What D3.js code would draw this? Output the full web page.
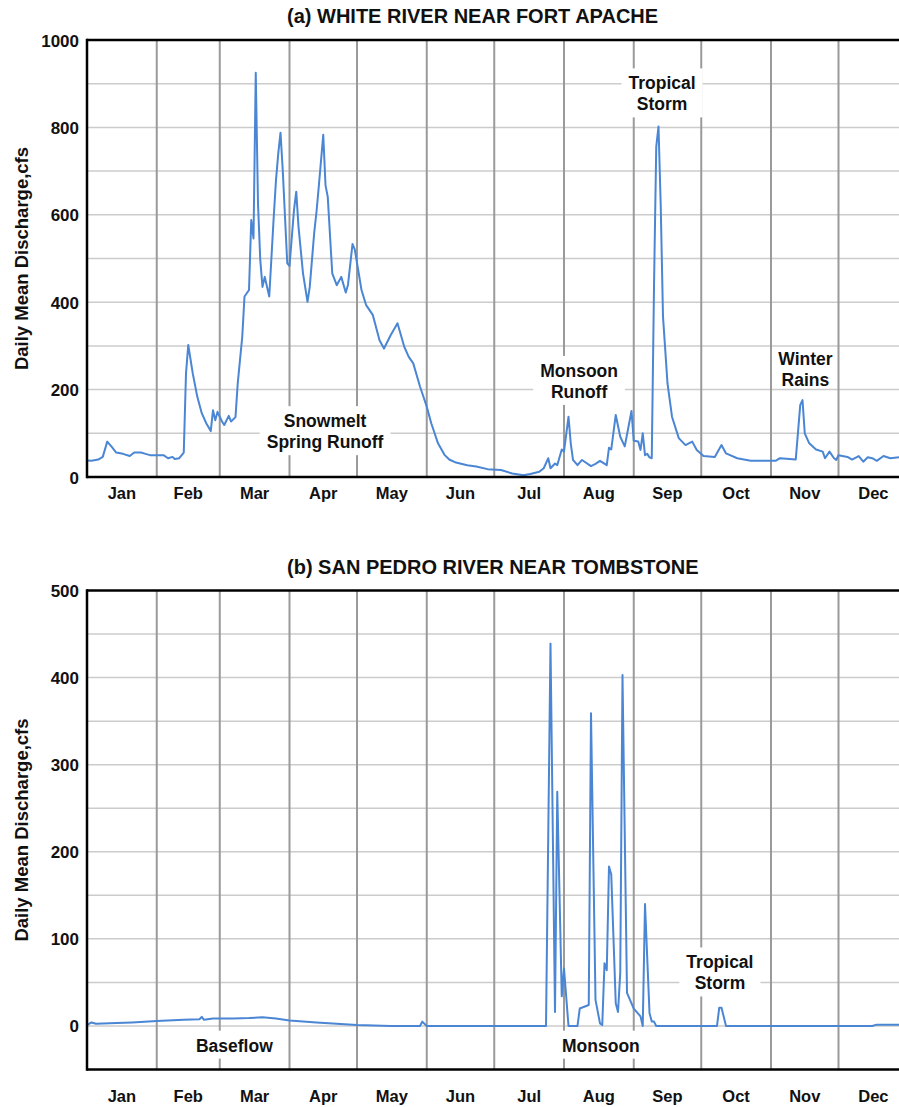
<!DOCTYPE html>
<html lang="en">
<head>
<meta charset="UTF-8">
<title>Daily Mean Discharge</title>
<script src="https://d3js.org/d3.v7.min.js"></script>
<style>
  body { margin: 0; background: #ffffff; }
  text {
    font-family: "Liberation Sans", Arial, sans-serif;
    font-weight: bold;
    fill: #111111;
  }
  .grid-h line { stroke: #cccccc; stroke-width: 1.5px; }
  .grid-v line { stroke: #9a9a9a; stroke-width: 2px; }
  .frame line { stroke: #000000; stroke-width: 2.5px; }
  .flow { fill: none; stroke: #4a86d4; stroke-width: 2px; stroke-linejoin: round; }
</style>
</head>
<body>
<svg width="899" height="1107"></svg>

<script>
    // month names and cumulative day at the end of each month
    var months = ["Jan", "Feb", "Mar", "Apr", "May", "Jun", "Jul", "Aug", "Sep", "Oct", "Nov", "Dec"];
    var monthEnds = [31, 59, 90, 120, 151, 181, 212, 243, 273, 304, 334, 365];

    // [day of year, daily mean discharge cfs]
    var whiteRiver = [
        [0,38],[2,37],[5,40],[7,46],[9,81],[11,69],[13,56],[16,53],[19,48],[21,56],[24,56],[26,53],
        [28,50],[31,50],[34,50],[36,43],[38,46],[39,41],[41,43],[43,56],[44,237],[45,302],[47,237],
        [49,184],[51,146],[53,123],[55,105],[56,153],[57,130],[58,149],[60,127],[61,119],[63,140],
        [64,127],[66,137],[67,215],[69,321],[70,413],[72,428],[73,588],[74,546],[75,925],[76,626],
        [77,497],[78,435],[79,458],[81,413],[83,596],[84,680],[85,740],[86,788],[87,702],[89,489],
        [90,483],[92,611],[93,653],[94,573],[96,466],[98,401],[99,435],[101,560],[102,607],[103,664],
        [105,783],[106,668],[107,641],[109,466],[111,439],[113,458],[115,422],[116,440],[118,533],
        [119,521],[122,428],[124,394],[127,371],[128,352],[130,313],[132,294],[135,325],[138,352],
        [141,298],[143,275],[145,260],[148,207],[151,161],[153,123],[156,77],[159,50],[161,40],
        [164,33],[169,27],[173,24],[178,18],[184,16],[189,8],[194,4],[197,7],[201,12],[203,20],
        [205,43],[206,20],[208,31],[209,27],[211,63],[212,58],[214,138],[215,77],[216,39],[218,27],
        [220,39],[224,25],[226,30],[228,37],[231,27],[232,67],[233,63],[235,142],[237,92],[239,70],
        [242,151],[243,83],[245,81],[246,62],[247,100],[248,50],[249,53],[250,45],[251,43],[252,435],
        [253,756],[254,802],[255,619],[256,367],[258,214],[260,138],[263,89],[266,73],[269,81],
        [271,62],[274,48],[279,46],[282,73],[284,54],[289,43],[295,37],[306,37],[308,43],[315,40],
        [317,165],[318,176],[319,100],[321,77],[324,63],[327,58],[328,43],[330,58],[332,43],[333,39],
        [334,50],[338,46],[340,40],[343,48],[345,35],[347,45],[349,43],[351,37],[354,48],[357,43],
        [361,45],[364,45]
    ];

    var sanPedro = [
        [0,1],[2,4],[4,2.5],[10,3],[20,4],[31,5.7],[43,7],[50,7.7],[51,10.5],[52,7],[56,8.5],
        [65,8.5],[72,9],[78,10],[84,8.5],[90,6.2],[102,4],[120,1.2],[135,0],[148,0],[149,5],[151,0],
        [204,0],[206,439],[208,16],[209,269],[211,34],[212,66],[214,0],[218,0],[219,20],[223,24],
        [224,359],[226,30],[228,3],[229,1],[230,72],[231,64],[232,183],[233,174],[235,26],[236,16],
        [237,61],[238,403],[240,38],[243,20],[246,11],[247,0],[248,140],[250,15],[251,5],[252,5],
        [253,0],[280,0],[281,21],[282,21],[284,0],[349,0],[351,1.5],[364,1.5]
    ];

    // annotation text, anchored at (day, cfs) of the first line
    var whiteNotes = [
        { lines: ["Tropical", "Storm"], day: 255.6, cfs: 887, box: true },
        { lines: ["Snowmelt", "Spring Runoff"], day: 105.8, cfs: 114, box: true },
        { lines: ["Monsoon", "Runoff"], day: 218.7, cfs: 229, box: true },
        { lines: ["Winter", "Rains"], day: 319.3, cfs: 256, box: false }
    ];
    var sanPedroNotes = [
        { lines: ["Tropical", "Storm"], day: 281.3, cfs: 66, box: true },
        { lines: ["Baseflow"], day: 65.5, cfs: -29.5, box: true },
        { lines: ["Monsoon"], day: 228.4, cfs: -29.5, box: true }
    ];

    var svg = d3.select("svg");

    var x = d3.scaleLinear().domain([0, 365]).range([87, 908.25]);

    var panels = [
        { title: "(a) WHITE RIVER NEAR FORT APACHE", data: whiteRiver, notes: whiteNotes,
          domain: [0, 1000], top: 40, bottom: 477, gridStep: 100, labelStep: 200, monthDy: 21.5 },
        { title: "(b) SAN PEDRO RIVER NEAR TOMBSTONE", data: sanPedro, notes: sanPedroNotes,
          domain: [-50, 500], top: 590.5, bottom: 1069.5, gridStep: 50, labelStep: 100, monthDy: 32.5 }
    ];

    panels.forEach(function (p) {
        var y = d3.scaleLinear().domain(p.domain).range([p.bottom, p.top]);
        var g = svg.append("g");

        var hTicks = d3.range(p.domain[0] + p.gridStep, p.domain[1], p.gridStep);
        g.append("g").attr("class", "grid-h")
            .selectAll("line").data(hTicks).enter().append("line")
            .attr("x1", x(0)).attr("x2", x(365))
            .attr("y1", function (d) { return y(d); })
            .attr("y2", function (d) { return y(d); });

        g.append("g").attr("class", "grid-v")
            .selectAll("line").data(monthEnds.slice(0, 11)).enter().append("line")
            .attr("x1", function (d) { return x(d); })
            .attr("x2", function (d) { return x(d); })
            .attr("y1", p.top).attr("y2", p.bottom);

        // annotations: white box under the text hides the grid
        var noteG = g.append("g");
        p.notes.forEach(function (n) {
            var ng = noteG.append("g");
            var box = ng.append("rect").attr("fill", "#ffffff");
            var t = ng.append("text")
                .attr("text-anchor", "middle")
                .style("font-size", "17.5px");
            n.lines.forEach(function (s, i) {
                t.append("tspan")
                    .attr("x", x(n.day))
                    .attr("y", y(n.cfs) + i * 21)
                    .text(s);
            });
            if (n.box) {
                var bb = t.node().getBBox();
                box.attr("x", bb.x - 7).attr("y", bb.y - 5)
                   .attr("width", bb.width + 14).attr("height", bb.height + 8);
            } else {
                box.remove();
            }
        });

        var line = d3.line()
            .x(function (d) { return x(d[0]); })
            .y(function (d) { return y(d[1]); });

        g.append("path")
            .datum(p.data)
            .attr("class", "flow")
            .attr("d", line);

        var frame = g.append("g").attr("class", "frame");
        frame.append("line").attr("x1", x(0)).attr("x2", x(365)).attr("y1", p.top).attr("y2", p.top);
        frame.append("line").attr("x1", x(0)).attr("x2", x(365)).attr("y1", p.bottom).attr("y2", p.bottom);
        frame.append("line").attr("x1", x(0)).attr("x2", x(0)).attr("y1", p.top - 1.2).attr("y2", p.bottom + 1.2);

        var yLabels = d3.range(0, p.domain[1] + 1, p.labelStep);
        g.append("g").selectAll("text").data(yLabels).enter().append("text")
            .attr("x", 79)
            .attr("y", function (d) { return y(d) + 6.5; })
            .attr("text-anchor", "end")
            .style("font-size", "17px")
            .text(function (d) { return d; });

        g.append("g").selectAll("text").data(months).enter().append("text")
            .attr("x", function (d, i) {
                var start = i === 0 ? 0 : monthEnds[i - 1];
                return x((start + monthEnds[i]) / 2);
            })
            .attr("y", p.bottom + p.monthDy)
            .attr("text-anchor", "middle")
            .style("font-size", "16.5px")
            .text(function (d) { return d; });

        g.append("text")
            .attr("x", 287)
            .attr("y", p.top - 17)
            .style("font-size", "20px")
            .text(p.title);

        g.append("text")
            .attr("transform", "translate(28," + ((p.top + p.bottom) / 2) + ") rotate(-90)")
            .attr("text-anchor", "middle")
            .style("font-size", "18.5px")
            .text("Daily Mean Discharge,cfs");
    });
</script>
</body>
</html>
